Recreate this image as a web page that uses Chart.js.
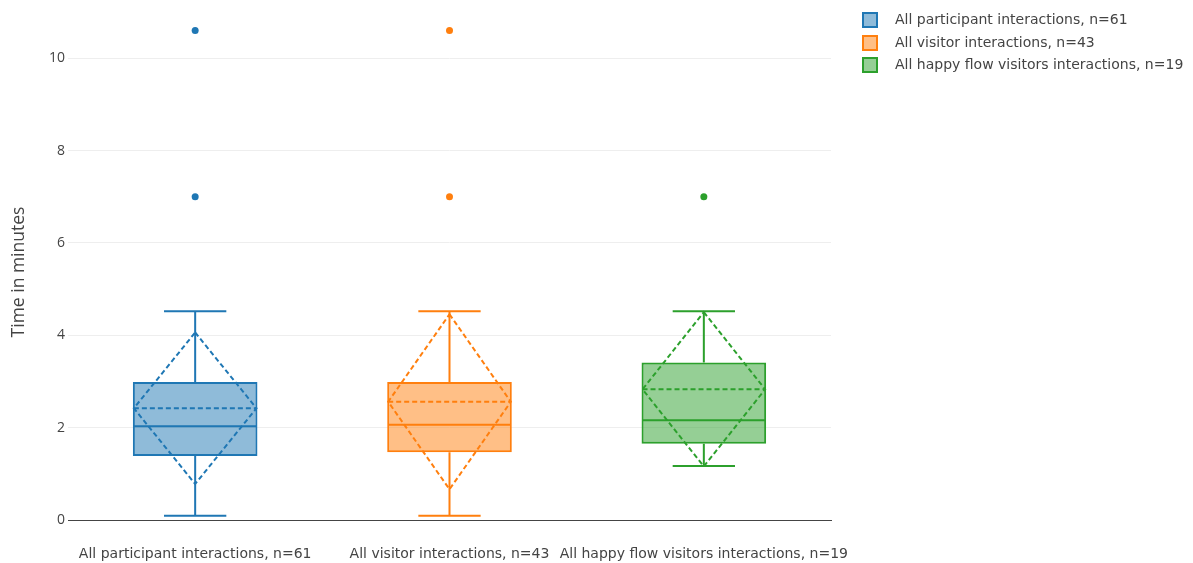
<!DOCTYPE html>
<html>
<head>
<meta charset="utf-8">
<script src="https://cdn.jsdelivr.net/npm/chart.js@4/dist/chart.umd.min.js"></script>
<style>
  html, body { margin: 0; padding: 0; background: #fff; }
  #wrap { position: relative; width: 1193px; height: 563px; }
  #legend { position: absolute; left: 862px; top: 12px; font-family: "DejaVu Sans", Verdana, sans-serif; font-size: 14px; color: #444; }
  .item { position: relative; height: 22.5px; }
  .sw { position: absolute; left: 0; top: 0; width: 12px; height: 12px; border: 2px solid; }
  .lt { position: absolute; left: 33px; top: -1px; line-height: 17px; white-space: nowrap; }
</style>
</head>
<body>
<div id="wrap">
  <canvas id="c" width="1193" height="563"></canvas>
  <div id="legend"></div>
</div>
<script>
const categories = ["All participant interactions, n=61", "All visitor interactions, n=43", "All happy flow visitors interactions, n=19"];
const colors = ["#1f77b4", "#ff7f0e", "#2ca02c"];
const fills = ["rgba(31,119,180,0.5)", "rgba(255,127,14,0.5)", "rgba(44,160,44,0.5)"];
const lowerWhisker = [0.09, 0.09, 1.17];
const q1 = [1.385, 1.465, 1.65];
const median = [2.03, 2.06, 2.16];
const q3 = [2.99, 2.99, 3.41];
const upperWhisker = [4.52, 4.52, 4.52];
const mean = [2.42, 2.56, 2.83];
const sd = [1.64, 1.895, 1.67];
const outliers = [[7, 10.6], [7, 10.6], [7]];
const yTicks = [0, 2, 4, 6, 8, 10];

const datasets = [];
categories.forEach((cat, i) => {
  datasets.push({
    type: 'bar',
    label: cat,
    data: categories.map((c, j) => j === i ? [q1[i], q3[i]] : null),
    backgroundColor: fills[i],
    borderColor: colors[i],
    borderWidth: 2,
    borderSkipped: false,
    grouped: false,
    barPercentage: 0.49,
    categoryPercentage: 1
  });
});
categories.forEach((cat, i) => {
  datasets.push({
    type: 'line',
    label: cat + ' outliers',
    data: outliers[i].map(v => ({x: cat, y: v})),
    showLine: false,
    pointRadius: 3.5,
    pointBackgroundColor: colors[i],
    pointBorderWidth: 0,
    borderColor: colors[i]
  });
});

const boxPlugin = {
  id: 'boxExtras',
  afterDatasetsDraw(chart) {
    const ctx = chart.ctx;
    const ys = chart.scales.y;
    categories.forEach((cat, i) => {
      const meta = chart.getDatasetMeta(i);
      const bar = meta.data[i];
      if (!bar) return;
      const cx = bar.x;
      const hw = bar.width / 2;
      const left = cx - hw + 1, right = cx + hw - 1;
      const Y = v => ys.getPixelForValue(v);
      ctx.save();
      ctx.strokeStyle = colors[i];
      ctx.lineWidth = 2;
      ctx.setLineDash([]);
      ctx.beginPath();
      ctx.moveTo(left, Y(median[i])); ctx.lineTo(right, Y(median[i]));
      ctx.moveTo(cx, Y(q3[i])); ctx.lineTo(cx, Y(upperWhisker[i]));
      ctx.moveTo(cx, Y(q1[i])); ctx.lineTo(cx, Y(lowerWhisker[i]));
      ctx.moveTo(cx - hw / 2, Y(upperWhisker[i])); ctx.lineTo(cx + hw / 2, Y(upperWhisker[i]));
      ctx.moveTo(cx - hw / 2, Y(lowerWhisker[i])); ctx.lineTo(cx + hw / 2, Y(lowerWhisker[i]));
      ctx.stroke();
      ctx.setLineDash([5, 3]);
      ctx.beginPath();
      ctx.moveTo(left, Y(mean[i])); ctx.lineTo(right, Y(mean[i]));
      ctx.stroke();
      ctx.beginPath();
      ctx.moveTo(cx, Y(mean[i] + sd[i]));
      ctx.lineTo(right, Y(mean[i]));
      ctx.lineTo(cx, Y(mean[i] - sd[i]));
      ctx.lineTo(left, Y(mean[i]));
      ctx.closePath();
      ctx.stroke();
      ctx.restore();
    });
  }
};

new Chart(document.getElementById('c'), {
  data: { labels: categories, datasets },
  options: {
    responsive: false,
    animation: false,
    layout: { padding: { left: 0, right: 362, top: 24, bottom: 0 } },
    plugins: { legend: { display: false }, tooltip: { enabled: false } },
    scales: {
      x: {
        type: 'category',
        offset: true,
        grid: { display: false, drawTicks: false },
        border: { display: true, color: '#444', width: 1 },
        ticks: {
          autoSkip: false, maxRotation: 0, minRotation: 0, padding: 26,
          color: '#444', font: { family: '"DejaVu Sans", Verdana, sans-serif', size: 14 }
        },
        afterFit(s) { s.height = 43; }
      },
      y: {
        type: 'linear',
        min: 0, max: 10.74,
        afterBuildTicks(s) { s.ticks = yTicks.map(v => ({ value: v })); },
        grid: { color: ctx => ctx.tick && ctx.tick.value === 0 ? '#444' : '#eeeeee', lineWidth: 1, drawTicks: false },
        border: { display: false },
        ticks: { padding: 3, color: '#444', font: { family: '"Open Sans", sans-serif', size: 14 } },
        title: { display: true, text: 'Time in minutes', color: '#444', font: { family: '"Open Sans", sans-serif', size: 17.5 }, padding: { top: 9, bottom: 0 } },
        afterFit(s) { s.width = 68; }
      }
    }
  },
  plugins: [boxPlugin]
});

const legend = document.getElementById('legend');
categories.forEach((cat, i) => {
  const item = document.createElement('div');
  item.className = 'item';
  const sw = document.createElement('span');
  sw.className = 'sw';
  sw.style.borderColor = colors[i];
  sw.style.background = fills[i];
  const t = document.createElement('span');
  t.className = 'lt';
  t.textContent = cat;
  item.appendChild(sw); item.appendChild(t);
  legend.appendChild(item);
});
</script>
</body>
</html>
